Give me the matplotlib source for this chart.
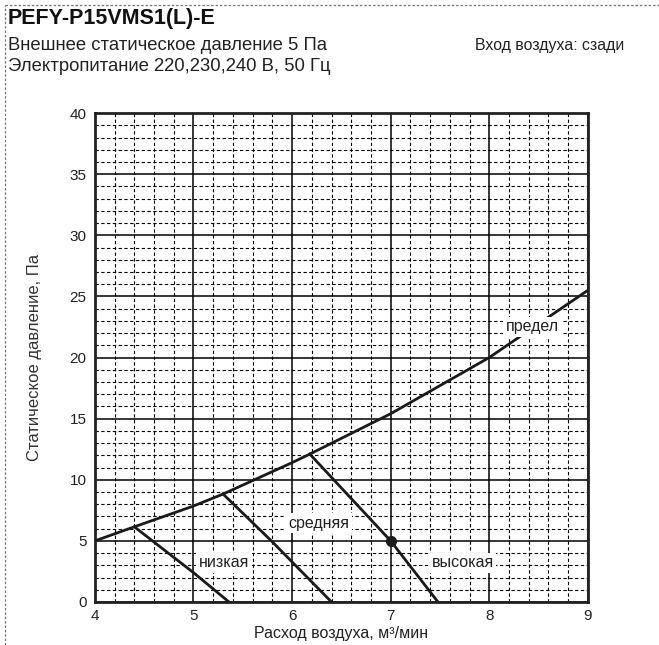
import matplotlib.pyplot as plt
import numpy as np
from matplotlib.ticker import MultipleLocator
from matplotlib.lines import Line2D

plt.rcParams['font.family'] = ['Liberation Sans', 'DejaVu Sans']

# limit curve (предел)
limit_x = [4.0, 4.4, 5.0, 5.3, 6.0, 6.18, 7.0, 8.0, 9.0]
limit_y = [5.0, 6.15, 7.85, 8.83, 11.4, 12.1, 15.4, 20.0, 25.5]

# fan speed curves
low_x = [4.4, 5.0, 5.36]
low_y = [6.15, 2.4, 0.0]
mid_x = [5.3, 5.79, 6.4]
mid_y = [8.83, 5.0, 0.0]
high_x = [6.18, 7.0, 7.48]
high_y = [12.1, 5.0, 0.0]

rated_point = (7.0, 5.0)

labels = ['предел', 'средняя', 'низкая', 'высокая']
label_x = [8.44, 6.27, 5.31, 7.73]
label_y = [22.5, 6.45, 3.2, 3.2]

fig = plt.figure(figsize=(6.59, 6.45), dpi=100)
ax = fig.add_axes([0.144, 0.0667, 0.748, 0.758])

ax.set_xlim(4, 9)
ax.set_ylim(0, 40)
ax.xaxis.set_major_locator(MultipleLocator(1))
ax.xaxis.set_minor_locator(MultipleLocator(0.2))
ax.yaxis.set_major_locator(MultipleLocator(5))
ax.yaxis.set_minor_locator(MultipleLocator(1))
ax.grid(which='major', color='black', lw=1.1, ls='-')
ax.grid(which='minor', color='black', lw=0.8, ls=(0, (3, 2.2)))
ax.set_axisbelow(True)
ax.tick_params(which='both', length=0, labelsize=11, colors='#222222')
ax.tick_params(axis='x', pad=5)
ax.tick_params(axis='y', pad=6)
for s in ax.spines.values():
    s.set_linewidth(2.0)
    s.set_color('#222222')

lw = 2.0
ax.plot(limit_x, limit_y, color='#1a1a1a', lw=lw, zorder=3)
ax.plot(low_x, low_y, color='#1a1a1a', lw=lw, zorder=3)
ax.plot(mid_x, mid_y, color='#1a1a1a', lw=lw, zorder=3)
ax.plot(high_x, high_y, color='#1a1a1a', lw=lw, zorder=3)
ax.plot(*rated_point, 'o', color='#1a1a1a', ms=7, zorder=4)

for t, x, y in zip(labels, label_x, label_y):
    ax.text(x, y, t, ha='center', va='center', fontsize=11.5, color='#222222',
            bbox=dict(facecolor='white', edgecolor='none', pad=2), zorder=5)

fig.text(0.518, 0.006, 'Расход воздуха, м³/мин', fontsize=11.5,
         color='#222222', ha='center', va='bottom')
ax.set_ylabel('Статическое давление, Па', fontsize=12, color='#333333', labelpad=20)

fig.text(0.012, 0.972, 'PEFY-P15VMS1(L)-E', fontsize=15.5, fontweight='bold',
         va='center', ha='left', color='#111111')
fig.text(0.012, 0.93, 'Внешнее статическое давление 5 Па', fontsize=13.3,
         va='center', ha='left', color='#222222')
fig.text(0.012, 0.897, 'Электропитание 220,230,240 В, 50 Гц', fontsize=13.3,
         va='center', ha='left', color='#222222')
fig.text(0.948, 0.93, 'Вход воздуха: сзади', fontsize=11.4,
         va='center', ha='right', color='#222222')

# dotted page border (top and left)
fig.add_artist(Line2D([0.008, 1.0], [0.992, 0.992], transform=fig.transFigure,
                      color='#777777', lw=0.9, ls=(0, (2, 1.5))))
fig.add_artist(Line2D([0.008, 0.008], [0.0, 0.992], transform=fig.transFigure,
                      color='#777777', lw=0.9, ls=(0, (2, 1.5))))

fig.savefig('out.png', dpi=100)
